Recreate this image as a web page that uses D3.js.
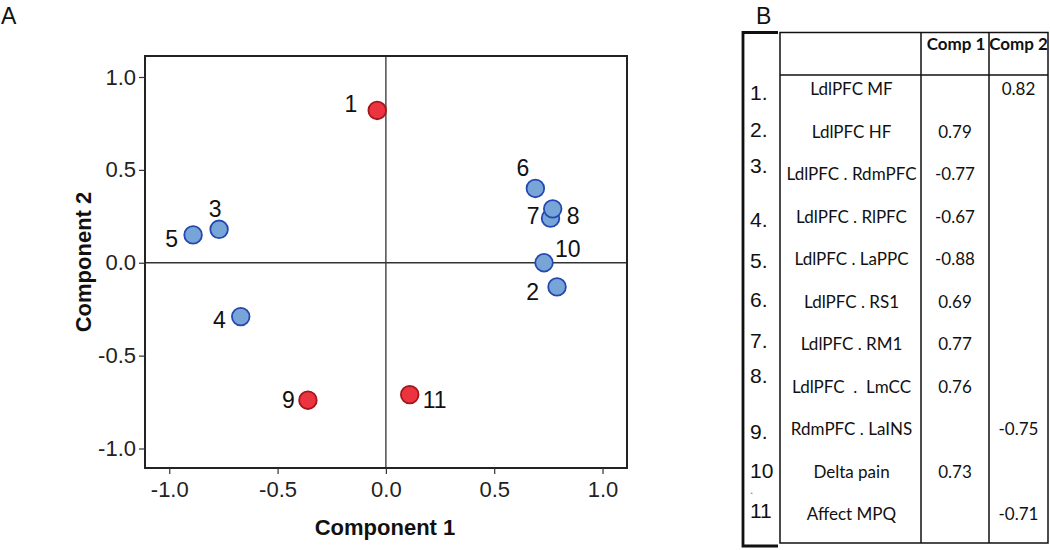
<!DOCTYPE html>
<html>
<head>
<meta charset="utf-8">
<script src="https://cdn.jsdelivr.net/npm/d3@7"></script>
<style>
  body { margin: 0; background: #fff; }
  svg { display: block; }
</style>
</head>
<body>
<svg id="chart" width="1050" height="550"></svg>
<script>
// ---------- data ----------
const pointIds   = ["1", "2", "3", "4", "5", "6", "7", "8", "9", "10", "11"];
const comp1      = [-0.04, 0.79, -0.77, -0.67, -0.89, 0.69, 0.76, 0.77, -0.36, 0.73, 0.11];
const comp2      = [0.82, -0.13, 0.18, -0.29, 0.15, 0.40, 0.24, 0.29, -0.74, 0.00, -0.71];
const pointGroup = ["c2", "c1", "c1", "c1", "c1", "c1", "c1", "c1", "c2", "c1", "c2"];
const xTicks = [-1.0, -0.5, 0.0, 0.5, 1.0];
const yTicks = [-1.0, -0.5, 0.0, 0.5, 1.0];

const rowNumbers   = ["1.", "2.", "3.", "4.", "5.", "6.", "7.", "8.", "9.", "10", "11"];
const rowNames     = ["LdlPFC MF", "LdlPFC HF", "LdlPFC . RdmPFC", "LdlPFC . RlPFC", "LdlPFC . LaPPC",
                      "LdlPFC . RS1", "LdlPFC . RM1", "LdlPFC  .  LmCC", "RdmPFC . LaINS", "Delta pain", "Affect MPQ"];
const loadComp1    = ["", "0.79", "-0.77", "-0.67", "-0.88", "0.69", "0.77", "0.76", "", "0.73", ""];
const loadComp2    = ["0.82", "", "", "", "", "", "", "", "-0.75", "", "-0.71"];
const tableHeaders = ["Comp 1", "Comp 2"];

// ---------- layout ----------
// label placement per point: [anchor, dx, dy]
const labelPlace = {
  "1": ["end", -20, 2], "2": ["end", -18, 13], "3": ["middle", -4, -12], "4": ["end", -15, 11],
  "5": ["end", -15, 12], "6": ["end", -6, -12], "7": ["end", -11, 6], "8": ["start", 14, 15],
  "9": ["end", -13, 8], "10": ["start", 11, -6], "11": ["start", 13, 13]
};
// vertical nudge of the row numbers relative to their row
const rowNumberNudge = [5, -1, -7, 4, 3, -1, -2, -10, 4, 0, -2];
const groupFill   = { c1: "#77a5d8", c2: "#ec3440" };
const groupStroke = { c1: "#2447b0", c2: "#a3151b" };

const svg = d3.select("#chart");
const font = "Arial, 'Liberation Sans', sans-serif";

// panel letters
svg.append("text").attr("x", 1).attr("y", 24).attr("font-family", font).attr("font-size", 23).attr("fill", "#111").text("A");
svg.append("text").attr("x", 756).attr("y", 24).attr("font-family", font).attr("font-size", 23).attr("fill", "#111").text("B");

// ---------- scatter ----------
const plot = { left: 145, right: 627, top: 56, bottom: 468 };
const x = d3.scaleLinear().domain([-1.112, 1.113]).range([plot.left, plot.right]);
const y = d3.scaleLinear().domain([-1.105, 1.113]).range([plot.bottom, plot.top]);

const g = svg.append("g");

// zero lines
g.append("line").attr("x1", x(0)).attr("x2", x(0)).attr("y1", plot.top).attr("y2", plot.bottom)
  .attr("stroke", "#333").attr("stroke-width", 1.3);
g.append("line").attr("x1", plot.left).attr("x2", plot.right).attr("y1", y(0)).attr("y2", y(0))
  .attr("stroke", "#333").attr("stroke-width", 1.3);

// frame
g.append("rect").attr("x", plot.left).attr("y", plot.top)
  .attr("width", plot.right - plot.left).attr("height", plot.bottom - plot.top)
  .attr("fill", "none").attr("stroke", "#222").attr("stroke-width", 2);

// axes
const xAxis = d3.axisBottom(x).tickValues(xTicks).tickFormat(d3.format(".1f")).tickSize(6).tickSizeOuter(0).tickPadding(7);
const yAxis = d3.axisLeft(y).tickValues(yTicks).tickFormat(d3.format(".1f")).tickSize(6).tickSizeOuter(0).tickPadding(3);

const gx = g.append("g").attr("transform", `translate(0,${plot.bottom})`).call(xAxis);
const gy = g.append("g").attr("transform", `translate(${plot.left},0)`).call(yAxis);
[gx, gy].forEach(a => {
  a.select(".domain").remove();
  a.selectAll(".tick line").attr("stroke", "#333").attr("stroke-width", 1.2);
  a.selectAll(".tick text").attr("font-family", font).attr("font-size", 22).attr("fill", "#222");
});
gx.selectAll(".tick text").text(d => d3.format(".1f")(d).replace("−", "-"));
gy.selectAll(".tick text").text(d => d3.format(".1f")(d).replace("−", "-"));

// axis titles
g.append("text").attr("x", (plot.left + plot.right) / 2 - 1).attr("y", 535)
  .attr("text-anchor", "middle").attr("font-family", font).attr("font-weight", "bold")
  .attr("font-size", 22).attr("fill", "#111").text("Component 1");
g.append("text").attr("transform", `translate(91,${(plot.top + plot.bottom) / 2}) rotate(-90)`)
  .attr("text-anchor", "middle").attr("font-family", font).attr("font-weight", "bold")
  .attr("font-size", 22).attr("fill", "#111").text("Component 2");

// points
const pts = pointIds.map((id, i) => ({ id, cx: comp1[i], cy: comp2[i], grp: pointGroup[i] }));
g.selectAll("circle.pt").data(pts).join("circle").attr("class", "pt")
  .attr("cx", d => x(d.cx)).attr("cy", d => y(d.cy)).attr("r", 8.8)
  .attr("fill", d => groupFill[d.grp]).attr("stroke", d => groupStroke[d.grp]).attr("stroke-width", 1.8);

g.selectAll("text.lbl").data(pts).join("text").attr("class", "lbl")
  .attr("x", d => x(d.cx) + labelPlace[d.id][1]).attr("y", d => y(d.cy) + labelPlace[d.id][2])
  .attr("text-anchor", d => labelPlace[d.id][0])
  .attr("font-family", font).attr("font-size", 23).attr("fill", "#111").text(d => d.id);

// ---------- table ----------
const tbl = { bracketX: 743, left: 780, c1: 921, c2: 989, right: 1048, top: 32.5, headBottom: 75, bottom: 543 };
const tFont = "Lato, 'Open Sans', sans-serif";
const rowY = d3.scalePoint().domain(d3.range(rowNames.length)).range([95, 520]);

const tg = svg.append("g");
// left bracket
tg.append("path").attr("d", `M${tbl.left - 2},${tbl.top} H${tbl.bracketX} V${tbl.bottom + 3} H${tbl.left - 2}`)
  .attr("fill", "none").attr("stroke", "#111").attr("stroke-width", 2.8);
// box
tg.append("rect").attr("x", tbl.left).attr("y", tbl.top).attr("width", tbl.right - tbl.left)
  .attr("height", tbl.bottom - tbl.top).attr("fill", "none").attr("stroke", "#111").attr("stroke-width", 1.5);
[tbl.c1, tbl.c2].forEach(cx => tg.append("line").attr("x1", cx).attr("x2", cx).attr("y1", tbl.top).attr("y2", tbl.bottom)
  .attr("stroke", "#111").attr("stroke-width", 1.5));
tg.append("line").attr("x1", tbl.left).attr("x2", tbl.right).attr("y1", tbl.headBottom).attr("y2", tbl.headBottom)
  .attr("stroke", "#111").attr("stroke-width", 1.5);

// headers
tableHeaders.forEach((h, i) => {
  const cx = i === 0 ? (tbl.c1 + tbl.c2) / 2 + 1 : (tbl.c2 + tbl.right) / 2;
  tg.append("text").attr("x", cx).attr("y", 50).attr("text-anchor", "middle")
    .attr("font-family", tFont).attr("font-weight", "bold").attr("font-size", 17).attr("fill", "#111").text(h);
});

// rows
tg.selectAll("text.num").data(rowNumbers).join("text").attr("class", "num")
  .attr("x", 750).attr("y", (d, i) => rowY(i) + rowNumberNudge[i])
  .attr("font-family", font).attr("font-size", 21).attr("fill", "#111").text(d => d);
// stray period belonging to "10."
tg.append("text").attr("x", 750).attr("y", 494).attr("font-family", font).attr("font-size", 12)
  .attr("fill", "#777").text(".");
tg.selectAll("text.name").data(rowNames).join("text").attr("class", "name")
  .attr("x", (tbl.left + tbl.c1) / 2 + 1).attr("y", (d, i) => rowY(i)).attr("text-anchor", "middle")
  .attr("xml:space", "preserve")
  .attr("font-family", tFont).attr("font-size", 17).attr("fill", "#111").text(d => d);
tg.selectAll("text.v1").data(loadComp1).join("text").attr("class", "v1")
  .attr("x", (tbl.c1 + tbl.c2) / 2).attr("y", (d, i) => rowY(i)).attr("text-anchor", "middle")
  .attr("font-family", tFont).attr("font-size", 17).attr("fill", "#111").text(d => d);
tg.selectAll("text.v2").data(loadComp2).join("text").attr("class", "v2")
  .attr("x", (tbl.c2 + tbl.right) / 2).attr("y", (d, i) => rowY(i)).attr("text-anchor", "middle")
  .attr("font-family", tFont).attr("font-size", 17).attr("fill", "#111").text(d => d);
</script>
</body>
</html>
